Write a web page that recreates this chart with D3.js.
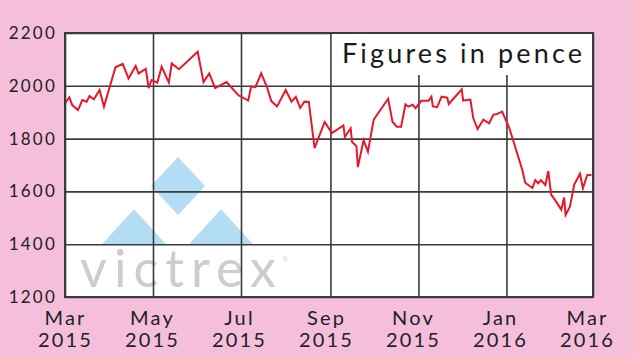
<!DOCTYPE html>
<html>
<head>
<meta charset="utf-8">
<script src="https://cdn.jsdelivr.net/npm/d3@7"></script>
<style>
  html, body { margin: 0; padding: 0; background: #F5BEDA; }
  svg { display: block; }
</style>
</head>
<body>
<div id="chart"></div>
<script>
// Victrex share price, Mar 2015 - Mar 2016 (pence)
const dates = [
  "2015-03-01", "2015-03-04", "2015-03-06", "2015-03-10", "2015-03-13", "2015-03-16",
  "2015-03-18", "2015-03-21", "2015-03-25", "2015-03-28", "2015-04-05", "2015-04-10",
  "2015-04-14", "2015-04-19", "2015-04-21", "2015-04-26", "2015-04-28", "2015-04-30",
  "2015-05-04", "2015-05-07", "2015-05-12", "2015-05-14", "2015-05-19", "2015-06-01",
  "2015-06-05", "2015-06-09", "2015-06-13", "2015-06-21", "2015-06-29", "2015-07-06",
  "2015-07-08", "2015-07-11", "2015-07-15", "2015-07-19", "2015-07-22", "2015-07-26",
  "2015-08-01", "2015-08-05", "2015-08-08", "2015-08-11", "2015-08-14", "2015-08-17",
  "2015-08-21", "2015-08-28", "2015-09-02", "2015-09-10", "2015-09-11", "2015-09-15",
  "2015-09-16", "2015-09-19", "2015-09-20", "2015-09-24", "2015-09-27", "2015-10-01",
  "2015-10-11", "2015-10-14", "2015-10-17", "2015-10-20", "2015-10-23", "2015-10-25",
  "2015-10-28", "2015-10-30", "2015-11-03", "2015-11-08", "2015-11-10", "2015-11-11",
  "2015-11-14", "2015-11-17", "2015-11-21", "2015-11-22", "2015-12-01", "2015-12-02",
  "2015-12-07", "2015-12-09", "2015-12-12", "2015-12-16", "2015-12-20", "2015-12-23",
  "2015-12-25", "2015-12-29", "2016-01-03", "2016-01-12", "2016-01-14", "2016-01-19",
  "2016-01-21", "2016-01-23", "2016-01-25", "2016-01-28", "2016-01-30", "2016-02-01",
  "2016-02-04", "2016-02-08", "2016-02-10", "2016-02-11", "2016-02-14", "2016-02-17",
  "2016-02-21", "2016-02-23", "2016-02-26", "2016-02-29"
];

const prices = [
  1934, 1956, 1927, 1908, 1946, 1940,
  1961, 1949, 1984, 1921, 2070, 2083,
  2028, 2075, 2047, 2064, 1991, 2022,
  2012, 2072, 2012, 2085, 2063, 2129,
  2014, 2047, 1991, 2014, 1965, 1944,
  1997, 1995, 2047, 1995, 1942, 1922,
  1984, 1940, 1958, 1916, 1940, 1939,
  1764, 1863, 1821, 1850, 1806, 1839,
  1787, 1772, 1692, 1794, 1750, 1872,
  1951, 1864, 1845, 1845, 1930, 1921,
  1928, 1915, 1943, 1943, 1959, 1922,
  1919, 1959, 1955, 1931, 1987, 1944,
  1948, 1878, 1836, 1872, 1858, 1891,
  1892, 1902, 1840, 1681, 1633, 1613,
  1643, 1631, 1642, 1624, 1677, 1588,
  1565, 1531, 1577, 1511, 1542, 1626,
  1667, 1612, 1662, 1662
];

const yTicks = [1200, 1400, 1600, 1800, 2000, 2200];
const gridDates = ["2015-03-01", "2015-05-01", "2015-07-01", "2015-09-01",
                   "2015-11-01", "2016-01-01", "2016-03-01"];
const monthLabels = ["Mar", "May", "Jul", "Sep", "Nov", "Jan", "Mar"];
const yearLabels = ["2015", "2015", "2015", "2015", "2015", "2016", "2016"];
const title = "Figures in pence";

const W = 634, H = 357;
const M = { top: 33, right: 41, bottom: 60, left: 65 };
const innerW = W - M.left - M.right;
const innerH = H - M.top - M.bottom;

const BG = "#F5BEDA";
const GRID = "#3a3a3a";
const LINE = "#E8182C";
const FONT = "Lato, 'Open Sans', sans-serif";

const parse = d3.timeParse("%Y-%m-%d");
const data = dates.map((d, i) => ({ date: parse(d), value: prices[i] }));

const x = d3.scaleTime()
  .domain([parse(gridDates[0]), parse(gridDates[gridDates.length - 1])])
  .range([M.left, W - M.right]);

const y = d3.scaleLinear()
  .domain([yTicks[0], yTicks[yTicks.length - 1]])
  .range([H - M.bottom, M.top]);

// labels sit evenly under the grid, slightly off the real month lines
const xLab = d3.scalePoint()
  .domain(d3.range(monthLabels.length))
  .range([M.left + 0.5, W - M.right - 5.5]);

const svg = d3.select("#chart").append("svg")
  .attr("width", W)
  .attr("height", H)
  .style("font-family", FONT);

svg.append("rect").attr("width", W).attr("height", H).attr("fill", BG);

// plot area
svg.append("rect")
  .attr("x", M.left).attr("y", M.top)
  .attr("width", innerW).attr("height", innerH)
  .attr("fill", "#fff");

// watermark logo (behind the grid)
const logo = svg.append("g").attr("fill", "#B3DDF2");
const lx = 178, ly = 186; // diamond centre
logo.append("path")
  .attr("d", `M${lx},${ly - 29}L${lx + 27},${ly}L${lx},${ly + 29}L${lx - 27},${ly}Z`);
const base = y(1400);
for (const cx of [134, 221]) {
  logo.append("path")
    .attr("d", `M${cx},${base - 35}L${cx + 32},${base}L${cx - 32},${base}Z`);
}
svg.append("text")
  .attr("x", 80).attr("y", 287)
  .attr("fill", "#CDCDCD")
  .attr("font-size", 52)
  .attr("textLength", 196)
  .attr("lengthAdjust", "spacing")
  .text("victrex");
svg.append("text")
  .attr("x", 282).attr("y", 262)
  .attr("fill", "#D8D8D8")
  .attr("font-size", 8)
  .text("®");

// grid
const xGrid = svg.append("g")
  .attr("transform", `translate(0,${H - M.bottom})`)
  .call(d3.axisBottom(x)
    .tickValues(gridDates.map(parse))
    .tickSize(-innerH)
    .tickFormat(""));
xGrid.select(".domain").remove();
xGrid.selectAll("line").attr("stroke", GRID).attr("stroke-width", 1.6);

const yGrid = svg.append("g")
  .attr("transform", `translate(${M.left},0)`)
  .call(d3.axisLeft(y)
    .tickValues(yTicks)
    .tickSize(-innerW)
    .tickPadding(8)
    .tickFormat(d3.format("d")));
yGrid.select(".domain").remove();
yGrid.selectAll("line").attr("stroke", GRID).attr("stroke-width", 1.6);
yGrid.selectAll("text")
  .attr("fill", "#222")
  .attr("font-family", FONT)
  .attr("font-size", 17)
  .attr("letter-spacing", 2.2);

// title box hides the upper grid on the right
const boxX = x(parse(gridDates[3])) + 1.5;
svg.append("rect")
  .attr("x", boxX).attr("y", M.top + 1)
  .attr("width", W - M.right - boxX - 1)
  .attr("height", 41)
  .attr("fill", "#fff");
svg.append("text")
  .attr("x", 342).attr("y", 63)
  .attr("fill", "#1a1a1a")
  .attr("font-size", 27)
  .attr("textLength", 240)
  .attr("lengthAdjust", "spacing")
  .text(title);

// price line
svg.append("path")
  .datum(data)
  .attr("fill", "none")
  .attr("stroke", LINE)
  .attr("stroke-width", 2)
  .attr("stroke-linejoin", "miter")
  .attr("d", d3.line().x((d) => x(d.date)).y((d) => y(d.value)));

// frame
svg.append("rect")
  .attr("x", M.left).attr("y", M.top)
  .attr("width", innerW).attr("height", innerH)
  .attr("fill", "none")
  .attr("stroke", GRID)
  .attr("stroke-width", 2);

// x labels
const xl = svg.append("g").attr("fill", "#222").attr("text-anchor", "middle")
  .attr("font-size", 20).attr("letter-spacing", 2.2);
xl.selectAll("text.m")
  .data(monthLabels)
  .join("text")
  .attr("class", "m")
  .attr("x", (d, i) => xLab(i))
  .attr("y", 325)
  .text((d) => d);
xl.selectAll("text.yr")
  .data(yearLabels)
  .join("text")
  .attr("class", "yr")
  .attr("x", (d, i) => xLab(i))
  .attr("y", 347)
  .text((d) => d);
</script>
</body>
</html>
